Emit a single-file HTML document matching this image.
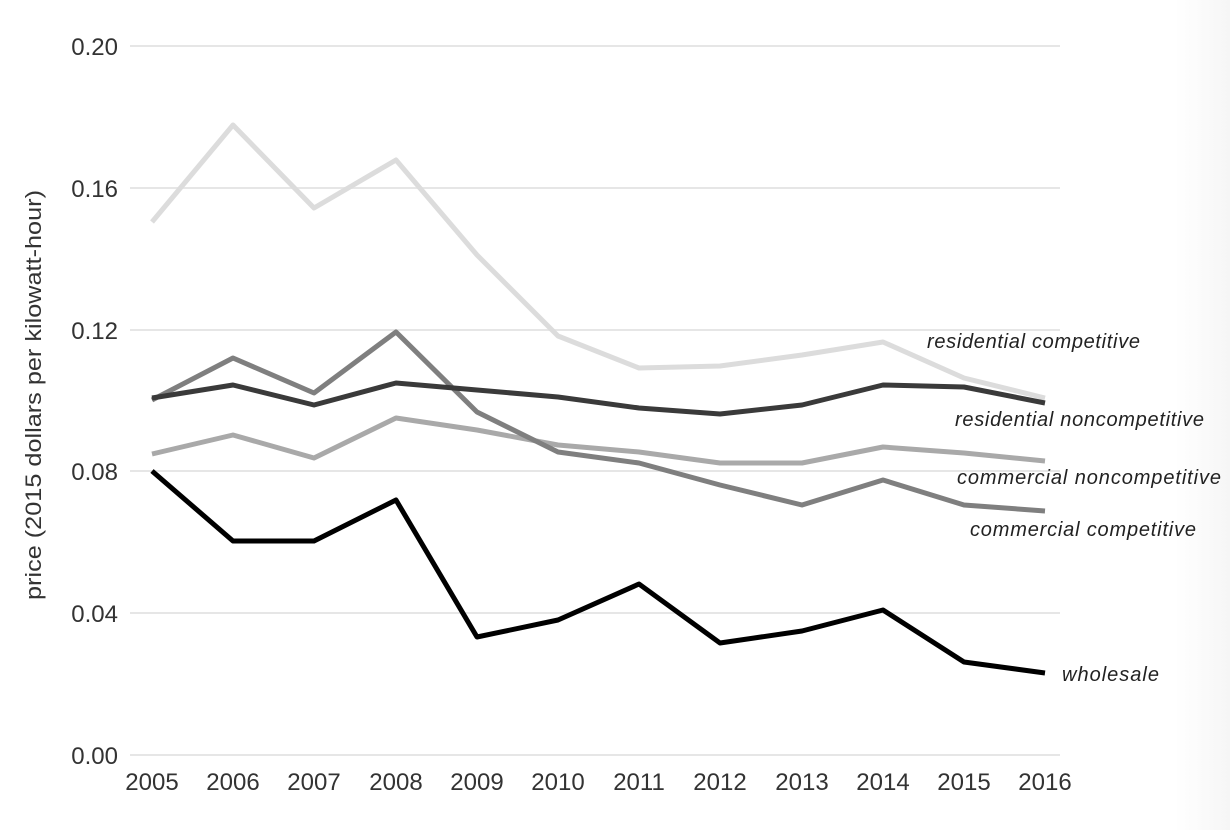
<!DOCTYPE html>
<html><head><meta charset="utf-8"><style>
html,body{margin:0;padding:0;background:#fff;}
svg{display:block;font-family:"Liberation Sans",sans-serif;}
</style></head><body>
<svg width="1230" height="830" viewBox="0 0 1230 830">
<defs><linearGradient id="g" x1="0" x2="1"><stop offset="0" stop-color="#fff"/><stop offset="1" stop-color="#f6f6f6"/></linearGradient></defs>
<rect x="1175" y="0" width="55" height="830" fill="url(#g)"/>
<g stroke="#e6e6e6" stroke-width="2">
<line x1="130" x2="1060" y1="46" y2="46"/>
<line x1="130" x2="1060" y1="188" y2="188"/>
<line x1="130" x2="1060" y1="330" y2="330"/>
<line x1="130" x2="1060" y1="471" y2="471"/>
<line x1="130" x2="1060" y1="613" y2="613"/>
<line x1="130" x2="1060" y1="755" y2="755"/>
</g>
<g font-size="24" fill="#333" text-anchor="end">
<text x="118" y="55">0.20</text>
<text x="118" y="197">0.16</text>
<text x="118" y="339">0.12</text>
<text x="118" y="480">0.08</text>
<text x="118" y="622">0.04</text>
<text x="118" y="764">0.00</text>
</g>
<g font-size="24" fill="#333" text-anchor="middle">
<text x="152" y="790">2005</text><text x="233" y="790">2006</text><text x="314" y="790">2007</text><text x="396" y="790">2008</text><text x="477" y="790">2009</text><text x="558" y="790">2010</text><text x="639" y="790">2011</text><text x="720" y="790">2012</text><text x="802" y="790">2013</text><text x="883" y="790">2014</text><text x="964" y="790">2015</text><text x="1045" y="790">2016</text>
</g>
<text transform="translate(41,395) rotate(-90)" font-size="22" fill="#333" text-anchor="middle" textLength="410" lengthAdjust="spacingAndGlyphs">price (2015 dollars per kilowatt-hour)</text>
<g fill="none" stroke-width="5" stroke-linejoin="round">
<polyline stroke="#dcdcdc" points="152,222 233,125 314,208 396,160 477,255 558,336 639,368 720,366 802,355 883,342 964,378 1045,398"/>
<polyline stroke="#a9a9a9" points="152,454 233,435 314,458 396,418 477,430 558,445 639,452 720,463 802,463 883,447 964,453 1045,461"/>
<polyline stroke="#7f7f7f" points="152,400 233,358 314,393 396,332 477,412 558,452 639,463 720,485 802,505 883,480 964,505 1045,511"/>
<polyline stroke="#3a3a3a" points="152,398 233,385 314,405 396,383 477,390 558,397 639,408 720,414 802,405 883,385 964,387 1045,403"/>
<polyline stroke="#000" points="152,471 233,541 314,541 396,500 477,637 558,620 639,584 720,643 802,631 883,610 964,662 1045,673"/>
</g>
<g font-size="20" font-style="italic" fill="#222" lengthAdjust="spacingAndGlyphs">
<text x="927" y="348" textLength="213">residential competitive</text>
<text x="955" y="426" textLength="249">residential noncompetitive</text>
<text x="957" y="484" textLength="264">commercial noncompetitive</text>
<text x="970" y="536" textLength="226">commercial competitive</text>
<text x="1062" y="681" textLength="97">wholesale</text>
</g>
</svg>
</body></html>
